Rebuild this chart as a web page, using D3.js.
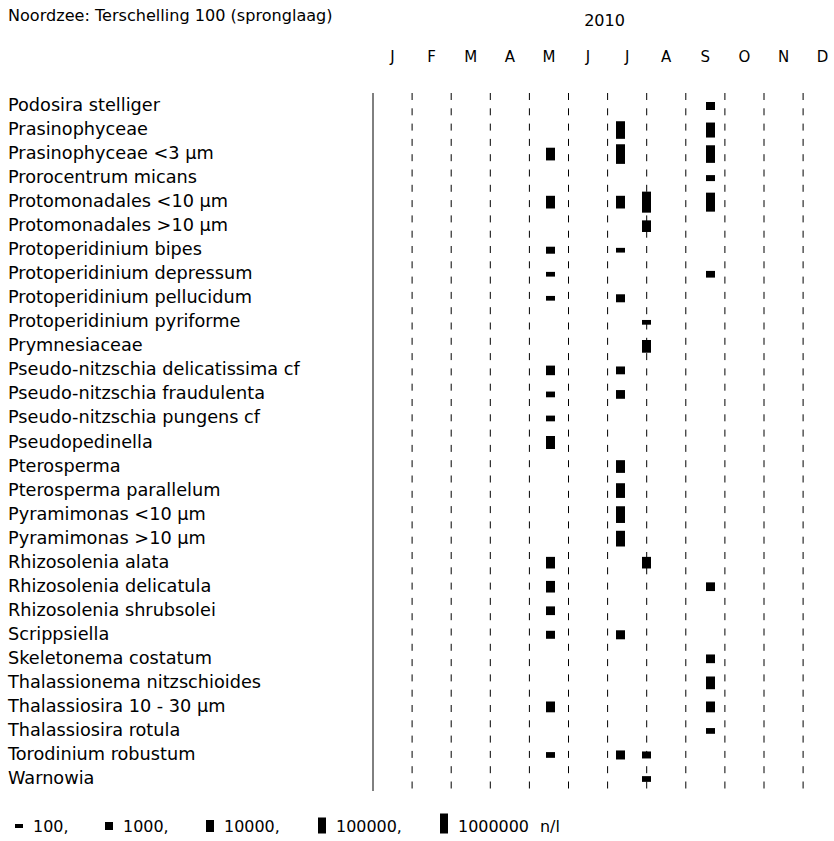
<!DOCTYPE html>
<html>
<head>
<meta charset="utf-8">
<script src="https://cdn.jsdelivr.net/npm/d3@7"></script>
<style>
html,body{margin:0;padding:0;background:#fff;}
svg{display:block;}
text{font-family:"DejaVu Sans",Verdana,sans-serif;fill:#000;}
</style>
</head>
<body>
<svg id="chart" width="834" height="841"></svg>
<script>
const title = "Noordzee: Terschelling 100 (spronglaag)";
const yearLabel = "2010";
const monthLabels = ["J","F","M","A","M","J","J","A","S","O","N","D"];
const species = [
  "Podosira stelliger","Prasinophyceae","Prasinophyceae <3 µm","Prorocentrum micans",
  "Protomonadales <10 µm","Protomonadales >10 µm","Protoperidinium bipes",
  "Protoperidinium depressum","Protoperidinium pellucidum","Protoperidinium pyriforme",
  "Prymnesiaceae","Pseudo-nitzschia delicatissima cf","Pseudo-nitzschia fraudulenta",
  "Pseudo-nitzschia pungens cf","Pseudopedinella","Pterosperma","Pterosperma parallelum",
  "Pyramimonas <10 µm","Pyramimonas >10 µm","Rhizosolenia alata","Rhizosolenia delicatula",
  "Rhizosolenia shrubsolei","Scrippsiella","Skeletonema costatum","Thalassionema nitzschioides",
  "Thalassiosira 10 - 30 µm","Thalassiosira rotula","Torodinium robustum","Warnowia"
];
const sampleDates = ["2010-05-18","2010-07-11","2010-08-01","2010-09-20"];
// counts (n/l) per species for each sample date; null = not observed
const countsMay = [null,null,15000,null,15000,null,560,150,150,null,null,2500,270,270,18000,null,null,null,null,8000,8000,1500,1000,null,null,5000,null,270,null];
const countsJul = [null,250000,800000,null,15000,null,150,null,1000,null,null,900,1500,null,null,15000,47000,150000,85000,null,null,null,1800,null,null,null,null,1800,null];
const countsAug = [null,null,null,null,1800000,8000,null,null,null,150,15000,null,null,null,null,null,null,null,null,8000,null,null,null,null,null,null,null,560,270];
const countsSep = [1000,56000,250000,316,560000,null,null,470,null,null,null,null,null,null,null,null,null,null,null,null,1500,null,null,1500,15000,5000,270,null,null];
const legendValues = [100,1000,10000,100000,1000000];
const legendLabels = ["100,","1000,","10000,","100000,","1000000"];
const unitLabel = "n/l";

const svg = d3.select("#chart");
const x = d3.scaleLinear().domain([0,12]).range([373, 373 + 12*39.1]);
const y = d3.scalePoint().domain(species).range([106, 779]);
const h = d3.scaleLinear().domain([1,7]).range([0,24]); // height from log10(count)
const barW = 9;
const parse = d3.timeParse("%Y-%m-%d");
function monthPos(s){
  const d = parse(s);
  const dim = new Date(d.getFullYear(), d.getMonth()+1, 0).getDate();
  return d.getMonth() + (d.getDate()-1)/dim;
}

// font size fitting to the reference text widths
function fit(str, target){
  const t = svg.append("text").attr("font-size", 14).text(str);
  const w = t.node().getComputedTextLength();
  t.remove();
  return 14 * target / w;
}
const fsTitle = fit(title, 325);
const fsLabel = fit("Pseudo-nitzschia delicatissima cf", 292);
const fsLegend = fit("1000000", 71);
const fsMonth = Math.min(fsLabel, 15);

svg.append("text").attr("x",8).attr("y",21).attr("font-size",fsTitle).text(title);
svg.append("text").attr("x",x(6)-3).attr("y",26).attr("text-anchor","middle").attr("font-size",fsTitle).text(yearLabel);

svg.append("g").selectAll("text").data(monthLabels).join("text")
  .attr("x",(d,i)=>x(i+0.5)).attr("y",62).attr("text-anchor","middle")
  .attr("font-size",fsMonth).text(d=>d);

// grid
const yTop = 93, yBot = 791;
svg.append("line").attr("x1",x(0)).attr("x2",x(0)).attr("y1",yTop).attr("y2",yBot)
  .attr("stroke","#000").attr("stroke-width",1);
svg.append("g").selectAll("line").data(d3.range(1,12)).join("line")
  .attr("x1",d=>x(d)).attr("x2",d=>x(d)).attr("y1",yTop).attr("y2",yBot)
  .attr("stroke","#000").attr("stroke-width",1).attr("stroke-dasharray","7,8.3");

// labels
svg.append("g").selectAll("text").data(species).join("text")
  .attr("x",8).attr("y",d=>y(d)+5).attr("font-size",fsLabel).text(d=>d);

// bars
const series = [countsMay,countsJul,countsAug,countsSep];
const cells = [];
series.forEach((arr,si)=>{
  arr.forEach((v,i)=>{ if(v!=null) cells.push({date:sampleDates[si], sp:species[i], v}); });
});
svg.append("g").selectAll("rect").data(cells).join("rect")
  .attr("x",d=>Math.round(x(monthPos(d.date)) - barW/2))
  .attr("width",barW)
  .attr("y",d=>y(d.sp) - h(Math.log10(d.v))/2)
  .attr("height",d=>h(Math.log10(d.v)))
  .attr("fill","#000");

// legend
const legX = [15,105,206,318,440];
const lg = svg.append("g");
legendValues.forEach((v,i)=>{
  const hh = h(Math.log10(v));
  const top = Math.min(826 - hh/2, 833.5 - hh);
  lg.append("rect").attr("x",legX[i]).attr("y",top).attr("width",8).attr("height",hh).attr("fill","#000");
  lg.append("text").attr("x",legX[i]+18).attr("y",832).attr("font-size",fsLegend).text(legendLabels[i]);
});
lg.append("text").attr("x",540).attr("y",832).attr("font-size",fsLegend).text(unitLabel);
</script>
</body>
</html>
